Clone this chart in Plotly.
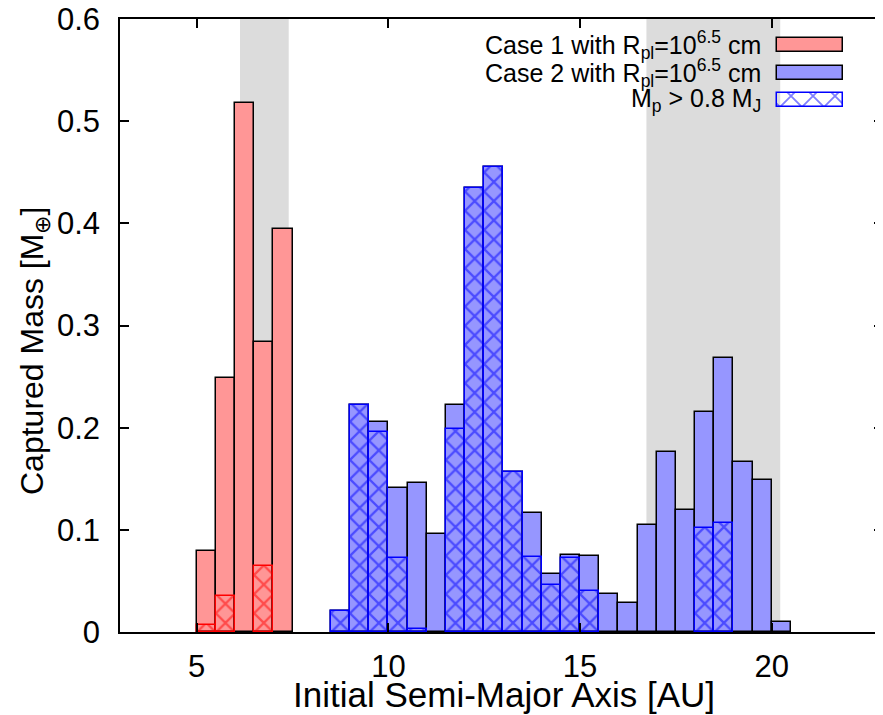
import math
import plotly.graph_objects as go

# ---------------- data ----------------
bin_width = 0.5

case1_x = [5.25, 5.75, 6.25, 6.75, 7.25]
case1_mass = [0.079, 0.249, 0.518, 0.284, 0.394]
case1_heavy = [0.007, 0.035, None, 0.065, None]

case2_x = [8.75, 9.25, 9.75, 10.25, 10.75, 11.25, 11.75, 12.25, 12.75, 13.25,
           13.75, 14.25, 14.75, 15.25, 15.75, 16.25, 16.75, 17.25, 17.75, 18.25,
           18.75, 19.25, 19.75, 20.25]
case2_mass = [0.021, 0.222, 0.206, 0.141, 0.146, 0.096, 0.222, 0.435, 0.455, 0.157,
              0.116, 0.057, 0.075, 0.074, 0.037, 0.028, 0.105, 0.176, 0.119, 0.215,
              0.268, 0.166, 0.149, 0.010]
case2_heavy = [0.021, 0.222, 0.196, 0.072, 0.003, None, 0.199, 0.435, 0.455, 0.157,
               0.073, 0.046, 0.072, 0.040, None, None, None, None, None, 0.102,
               0.107, None, None, None]

shaded_bands = [(6.13, 7.40), (16.73, 20.22)]

x_ticks = [5, 10, 15, 20]
y_ticks = [0, 0.1, 0.2, 0.3, 0.4, 0.5, 0.6]

x_title = "Initial Semi-Major Axis [AU]"
y_title = "Captured Mass [M<sub>⊕</sub>]"
legend_labels = ["Case 1 with R<sub>pl</sub>=10<sup>6.5</sup> cm",
                 "Case 2 with R<sub>pl</sub>=10<sup>6.5</sup> cm",
                 "M<sub>p</sub> &gt; 0.8 M<sub>J</sub>"]

# ---------------- geometry (page pixels; the page body adds an 8 px margin) ----------------
BODY = 8
PAGE_W, PAGE_H = 883, 715
PL, PR, PT, PB = 120, 883, 19, 632          # plot area in page pixels
W, H = PAGE_W - BODY, PAGE_H - BODY
ML, MR, MT, MB = PL - BODY, BODY + W - PR, PT - BODY, BODY + H - PB
XR = [3, 22.9]
px_per_unit = (PR - PL) / (XR[1] - XR[0])
hatch_tile = bin_width * px_per_unit        # one crossed cell per bin
hatch_size = hatch_tile / math.sqrt(2)      # plotly's 'x' tile = size*sqrt(2)


def paper_x(px):
    return (px - PL) / (PR - PL)


def paper_y(py):
    return (PB - py) / (PB - PT)


RED_FILL = "#ff9696"
BLUE_FILL = "#9696ff"
FONT = "Liberation Sans"

fig = go.Figure()


def base_bars(x, y, fill):
    fig.add_trace(go.Bar(x=x, y=y, width=bin_width,
                         marker=dict(color=fill, line=dict(color="black", width=1.5)),
                         showlegend=False, hoverinfo="x+y"))


def hatch_bars(x, y, col):
    fig.add_trace(go.Bar(x=x, y=y, width=bin_width,
                         marker=dict(color="rgba(0,0,0,0)", line=dict(color=col, width=1.5),
                                     pattern=dict(shape="x", fgcolor=col, bgcolor="rgba(0,0,0,0)",
                                                  size=hatch_size, solidity=0.3)),
                         showlegend=False, hoverinfo="x+y"))


base_bars(case1_x, case1_mass, RED_FILL)
base_bars(case2_x, case2_mass, BLUE_FILL)
hatch_bars(case1_x, case1_heavy, "#ff0000")
hatch_bars(case2_x, case2_heavy, "#0000ff")

for x0, x1 in shaded_bands:
    fig.add_vrect(x0=x0, x1=x1, fillcolor="#dcdcdc", line_width=0, layer="below")

# ---------------- manual legend (swatch on the right, like gnuplot) ----------------
leg_text_right = 763
leg_sw_left, leg_sw_len, leg_sw_h = 777, 66, 14
leg_rows = [45.3, 73.0, 100.3]
leg_fills = [RED_FILL, BLUE_FILL, "rgba(0,0,0,0)"]
leg_lines = ["black", "black", "#0000ff"]

for i in range(3):
    pat = None
    if i == 2:
        pat = dict(shape="x", fgcolor="#0000ff", bgcolor="rgba(0,0,0,0)",
                   size=22 / math.sqrt(2), solidity=0.22)
    fig.add_trace(go.Bar(x=[leg_sw_len], y=[leg_rows[i]], base=[leg_sw_left], width=leg_sw_h,
                         orientation="h", xaxis="x2", yaxis="y2",
                         marker=dict(color=leg_fills[i], line=dict(color=leg_lines[i], width=1.5), pattern=pat),
                         showlegend=False, hoverinfo="skip"))
    fig.add_annotation(x=paper_x(leg_text_right), y=paper_y(leg_rows[i]), xref="paper", yref="paper",
                       text=legend_labels[i], showarrow=False, xanchor="right", yanchor="middle",
                       font=dict(family=FONT, size=25, color="black"))

# axis titles placed where gnuplot put them
fig.add_annotation(x=paper_x(504), y=paper_y(694), xref="paper", yref="paper", text=x_title,
                   showarrow=False, xanchor="center", yanchor="middle",
                   font=dict(family=FONT, size=35, color="black"))
fig.add_annotation(x=paper_x(35), y=paper_y(351), xref="paper", yref="paper", text=y_title,
                   showarrow=False, textangle=-90, xanchor="center", yanchor="middle",
                   font=dict(family=FONT, size=32, color="black"))

axis_common = dict(showline=True, linecolor="black", linewidth=1.5, mirror="ticks", ticks="inside",
                   ticklen=9, tickwidth=1.5, tickcolor="black", showgrid=False, zeroline=False,
                   automargin=False, ticklabeloverflow="allow",
                   tickfont=dict(family=FONT, size=31, color="black"))

fig.update_layout(
    width=W, height=H,
    margin=dict(l=ML, r=MR, t=MT, b=MB, pad=0),
    paper_bgcolor="white", plot_bgcolor="white",
    barmode="overlay", bargap=0,
    showlegend=False,
    xaxis=dict(range=XR, tickvals=x_ticks, ticklabelstandoff=6, **axis_common),
    yaxis=dict(range=[0, 0.6], tickvals=y_ticks, ticktext=[f"{v:g}" for v in y_ticks],
               ticklabelstandoff=12, **axis_common),
    xaxis2=dict(overlaying="x", anchor="y2", range=[PL, PR], visible=False, fixedrange=True),
    yaxis2=dict(overlaying="y", anchor="x2", range=[PB, PT], visible=False, fixedrange=True),
)

fig.write_html("out.html")
